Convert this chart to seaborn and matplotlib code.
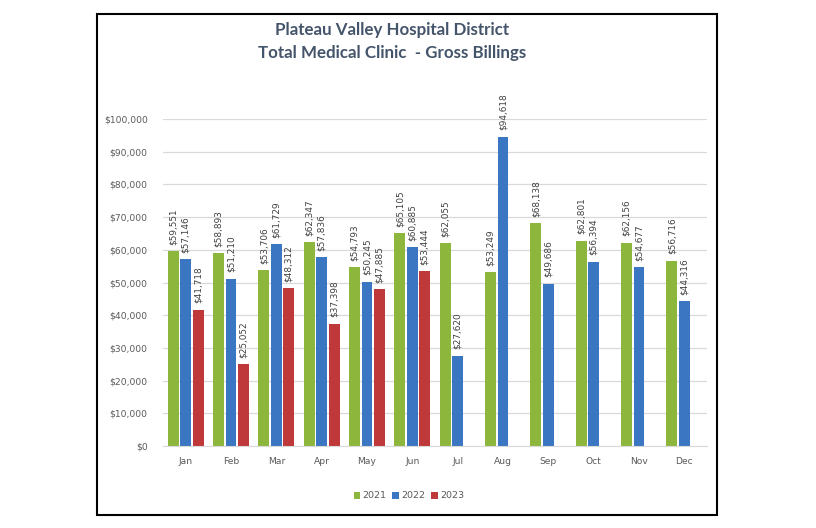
import matplotlib
matplotlib.use("Agg")
import matplotlib.pyplot as plt
import seaborn as sns
import pandas as pd
import numpy as np
from matplotlib.patches import Rectangle
from matplotlib.ticker import FuncFormatter, MultipleLocator

months = ["Jan", "Feb", "Mar", "Apr", "May", "Jun", "Jul", "Aug", "Sep", "Oct", "Nov", "Dec"]
years = ["2021", "2022", "2023"]
v2021 = [59551, 58893, 53706, 62347, 54793, 65105, 62055, 53249, 68138, 62801, 62156, 56716]
v2022 = [57146, 51210, 61729, 57836, 50245, 60885, 27620, 94618, 49686, 56394, 54677, 44316]
v2023 = [41718, 25052, 48312, 37398, 47885, 53444, None, None, None, None, None, None]

rows = []
for yr, vals in zip(years, [v2021, v2022, v2023]):
    for m, v in zip(months, vals):
        if v is not None:
            rows.append({"month": m, "year": yr, "value": v})
df = pd.DataFrame(rows)

colors = {"2021": "#8DB63C", "2022": "#3B76C2", "2023": "#C0393A"}

sns.set_style("white")
plt.rcParams["font.family"] = ["DejaVu Sans"]

fig = plt.figure(figsize=(8.16, 5.28), dpi=100)
ax = fig.add_axes([163/816, 1-446/528, (707-163)/816, (446-119)/528])

sns.barplot(data=df, x="month", y="value", hue="year", order=months, hue_order=years,
            palette=colors, width=0.82, gap=0.12, errorbar=None, ax=ax,
            edgecolor="none", saturation=1)

for cont in ax.containers:
    labels = [f"${b.get_height():,.0f}" for b in cont]
    ax.bar_label(cont, labels=labels, rotation=90, padding=4.5, fontsize=6.4,
                 color="#404040", clip_on=False)

ax.set_ylim(0, 100000)
ax.yaxis.set_major_locator(MultipleLocator(10000))
ax.yaxis.set_major_formatter(FuncFormatter(lambda v, p: f"${v:,.0f}"))
ax.grid(axis="y", color="#D9D9D9", linewidth=0.9)
ax.set_axisbelow(True)
for s in ["top", "right", "left"]:
    ax.spines[s].set_visible(False)
ax.spines["bottom"].set_color("#D9D9D9")
ax.tick_params(axis="both", length=0, labelsize=6.6, colors="#595959")
ax.tick_params(axis="y", pad=11)
ax.tick_params(axis="x", pad=8)
ax.set_xlabel("")
ax.set_ylabel("")

leg = ax.legend(loc="center", bbox_to_anchor=(409/816, 1-496/528), bbox_transform=fig.transFigure,
                ncol=3, frameon=False, fontsize=6.8, handlelength=0.7, handleheight=0.7,
                handletextpad=0.25, columnspacing=0.6)
for t in leg.get_texts():
    t.set_color("#595959")

fig.text(392/816, 1-30/528, "Plateau Valley Hospital District", ha="center", va="center",
         fontsize=12.2, fontweight="bold", color="#44546A", family=["Lato", "DejaVu Sans"])
fig.text(392/816, 1-53/528, "Total Medical Clinic  - Gross Billings", ha="center", va="center",
         fontsize=12.2, fontweight="bold", color="#44546A", family=["Lato", "DejaVu Sans"])

fig.patches.append(Rectangle((97/816, 1-515/528), (717-97)/816, (515-14)/528,
                             transform=fig.transFigure, fill=False, edgecolor="black",
                             linewidth=1.5, zorder=10))

fig.savefig("out.png", dpi=100)
